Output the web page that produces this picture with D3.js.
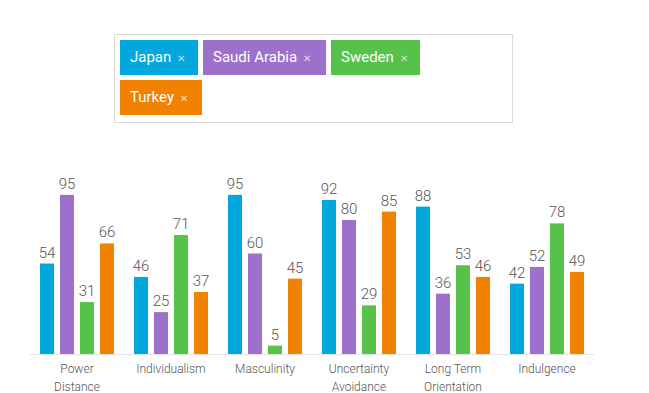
<!DOCTYPE html>
<html><head><meta charset="utf-8">
<script src="https://cdn.jsdelivr.net/npm/d3@7"></script>
<style>
body{margin:0;background:#fff;font-family:Roboto,"Open Sans",sans-serif;}
#legend{position:absolute;left:114px;top:34px;width:399px;height:89px;border:1px solid #d9d9d9;box-sizing:border-box;}
.tag{position:absolute;height:35px;line-height:35px;color:#fff;font-size:15px;padding:0 10px;box-sizing:border-box;white-space:nowrap;}
.tag span{font-size:10px;color:#ddd;margin-left:6px;}
</style></head><body>
<div id="legend"></div>
<svg id="chart" width="649" height="393" style="position:absolute;left:0;top:0"></svg>
<script>
const categories = [["Power","Distance"],["Individualism"],["Masculinity"],["Uncertainty","Avoidance"],["Long Term","Orientation"],["Indulgence"]];
const seriesNames = ["Japan","Saudi Arabia","Sweden","Turkey"];
const colors = ["#02a7de","#9d70cc","#56c14b","#f18101"];
const japan = [54,46,95,92,88,42];
const saudi = [95,25,60,80,36,52];
const sweden = [31,71,5,29,53,78];
const turkey = [66,37,45,85,46,49];
const series = [japan,saudi,sweden,turkey];

// legend tags
const tagPos = [[5,5,78],[88,5,123],[216,5,89],[5,45,82]];
const leg = d3.select("#legend");
seriesNames.forEach((n,i)=>{
  leg.append("div").attr("class","tag")
    .style("left",tagPos[i][0]+"px").style("top",tagPos[i][1]+"px")
    .style("width",tagPos[i][2]+"px")
    .style("background",colors[i])
    .html(n+"<span>✕</span>");
});

const svg = d3.select("#chart");
const baseY = 354;
const x0 = d3.scaleBand().domain(d3.range(categories.length)).range([30,594]).paddingInner(0).paddingOuter(0);
const x1 = d3.scaleBand().domain(d3.range(seriesNames.length)).range([10,84]).paddingInner(0.3).paddingOuter(0);
const y = d3.scaleLinear().domain([0,100]).range([baseY,186.5]);

svg.append("line").attr("x1",30).attr("x2",594).attr("y1",baseY+0.5).attr("y2",baseY+0.5)
  .attr("stroke","#e3e3e3").attr("stroke-width",1);

const g = svg.selectAll("g.grp").data(categories).join("g").attr("class","grp")
  .attr("transform",(d,i)=>`translate(${x0(i)},0)`);

series.forEach((s,si)=>{
  g.append("rect")
    .attr("x",x1(si)).attr("width",x1.bandwidth())
    .attr("y",(d,i)=>y(s[i])).attr("height",(d,i)=>baseY-y(s[i]))
    .attr("fill",colors[si]);
  g.append("text")
    .attr("x",x1(si)+x1.bandwidth()/2).attr("y",(d,i)=>y(s[i])-6)
    .attr("text-anchor","middle").attr("font-size",15).attr("font-weight",300).attr("fill","#555")
    .text((d,i)=>s[i]);
});

g.each(function(d){
  const t = d3.select(this).append("text").attr("text-anchor","middle")
    .attr("font-size",12).attr("font-weight",300).attr("fill","#555");
  d.forEach((line,li)=>{
    t.append("tspan").attr("x",x0.bandwidth()/2).attr("y",373+li*18).text(line);
  });
});
</script>
</body></html>
